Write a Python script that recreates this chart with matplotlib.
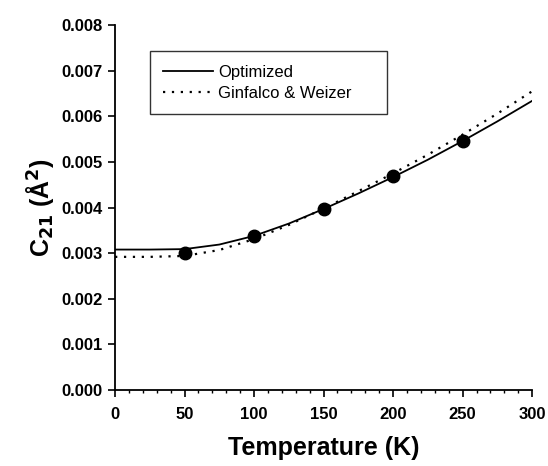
import matplotlib.pyplot as plt
from matplotlib.ticker import MultipleLocator

plt.rcParams['font.family'] = ['Liberation Sans', 'DejaVu Sans']

# temperature grid for the two model curves
temp = [0, 25, 50, 75, 100, 125, 150, 175, 200, 225, 250, 275, 300]
c21_optimized = [0.00308, 0.00308, 0.00309, 0.00319, 0.00338, 0.00365, 0.00397,
                 0.00431, 0.00467, 0.00505, 0.00546, 0.00589, 0.00634]
c21_gw = [0.00292, 0.00292, 0.00294, 0.00307, 0.00331, 0.00362, 0.00398,
          0.00436, 0.00475, 0.00516, 0.00560, 0.00606, 0.00655]

# measured points
temp_exp = [50, 100, 150, 200, 250]
c21_exp = [0.00300, 0.00337, 0.00397, 0.00469, 0.00546]

fig = plt.figure(figsize=(5.48, 4.66), dpi=100)
ax = fig.add_axes([0.21, 0.163, 0.761, 0.783])

ax.plot(temp, c21_optimized, color='black', lw=1.3, label='Optimized')
ax.plot(temp, c21_gw, color='black', lw=1.6, linestyle=(0, (1, 3)),
        label='Ginfalco & Weizer')
ax.plot(temp_exp, c21_exp, 'o', color='black', ms=9, zorder=3)

ax.set_xlim(0, 300)
ax.set_ylim(0, 0.008)
ax.xaxis.set_major_locator(MultipleLocator(50))
ax.xaxis.set_minor_locator(MultipleLocator(10))
ax.yaxis.set_major_locator(MultipleLocator(0.001))
ax.yaxis.set_major_formatter(plt.FormatStrFormatter('%.3f'))

for side in ('top', 'right'):
    ax.spines[side].set_visible(False)
for side in ('left', 'bottom'):
    ax.spines[side].set_linewidth(1.3)

ax.tick_params(which='major', direction='out', length=5, width=1.2,
               labelsize=12, pad=4)
ax.tick_params(axis='x', which='major', pad=7)
ax.tick_params(which='minor', direction='out', length=2.5, width=1)
for lbl in ax.get_xticklabels() + ax.get_yticklabels():
    lbl.set_fontweight('bold')

ax.set_xlabel('Temperature (K)', fontsize=18, fontweight='bold', labelpad=10)
ax.set_ylabel(r'C$_{\mathbf{21}}$ (Å$^{\mathbf{2}}$)', fontsize=18,
              fontweight='bold', labelpad=4)

leg = ax.legend(loc='upper left', bbox_to_anchor=(0.084, 0.5, 0.568, 0.428),
                mode='expand', fontsize=12, frameon=True, fancybox=False,
                edgecolor='black', handlelength=3.0, handletextpad=0.3,
                borderpad=0.8, labelspacing=0.35, borderaxespad=0)
leg.get_frame().set_linewidth(1.0)

fig.savefig('out.png', dpi=100)
